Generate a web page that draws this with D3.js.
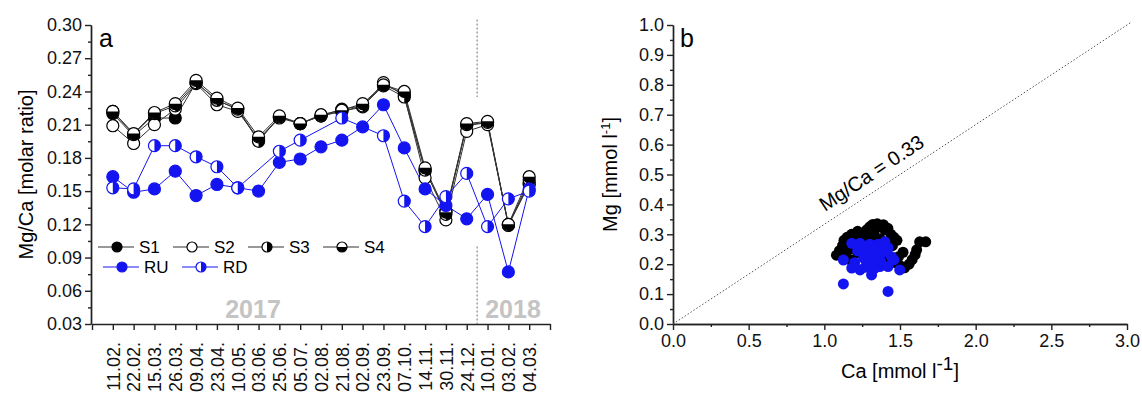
<!DOCTYPE html>
<html>
<head>
<meta charset="utf-8">
<script src="https://cdn.jsdelivr.net/npm/d3@7"></script>
<style>
  html, body { margin: 0; padding: 0; background: #fff; }
  svg { display: block; font-family: 'Liberation Sans', Arial, sans-serif; }
  .axis path, .axis line { stroke: #222; stroke-width: 1.4; }
  .axis text { font-size: 18px; fill: #111; }
</style>
</head>
<body>
<div id="chart"></div>
<script>
// ─── Data ────────────────────────────────────────────────────────────────────
const DATES = ['11.02.', '22.02.', '15.03.', '26.03.', '09.04.', '23.04.', '10.05.',
  '03.06.', '25.06.', '05.07.', '02.08.', '21.08.', '02.09.', '23.09.', '07.10.',
  '14.11.', '30.11.', '24.12.', '10.01.', '03.02.', '04.03.'];

const S1 = [0.220, 0.200, 0.216, 0.216, 0.248, 0.232, 0.224, 0.196, 0.217, 0.211, 0.218,
  0.224, 0.227, 0.246, 0.238, 0.168, 0.132, 0.209, 0.212, 0.119, 0.156];
const S2 = [0.209, 0.193, 0.210, 0.224, 0.247, 0.228, 0.222, 0.197, 0.216, 0.211, 0.218,
  0.222, 0.226, 0.248, 0.236, 0.162, 0.124, 0.204, 0.210, 0.120, 0.157];
const S3 = [0.222, 0.201, 0.220, 0.227, 0.248, 0.232, 0.224, 0.195, 0.217, 0.211, 0.218,
  0.222, 0.227, 0.245, 0.235, 0.169, 0.129, 0.210, 0.212, 0.119, 0.160];
const S4 = [0.222, 0.202, 0.221, 0.229, 0.250, 0.234, 0.225, 0.199, 0.218, 0.211, 0.219,
  0.223, 0.229, 0.246, 0.240, 0.171, 0.131, 0.211, 0.213, 0.120, 0.163];
const RU = [0.163, 0.149, 0.152, 0.168, 0.146, 0.156, 0.153, 0.150, 0.176, 0.179, 0.190,
  0.196, 0.208, 0.228, 0.189, 0.152, 0.137, 0.125, 0.147, 0.077, 0.152];
const RD = [0.153, 0.152, 0.191, 0.191, 0.181, 0.172, 0.153, null, 0.186, 0.196, null,
  0.216, null, 0.200, 0.141, 0.118, 0.145, 0.166, 0.118, 0.143, 0.150];

const Y_TICKS_A = [0.03, 0.06, 0.09, 0.12, 0.15, 0.18, 0.21, 0.24, 0.27, 0.30];
const YEAR_SPLIT = 17.5;               // between 24.12. and 10.01.
const SPLIT_SEGMENTS = [[0.305, 0.235], [0.10, 0.03]];

// panel b: Ca / Mg scatter (mmol l-1)
const S_CA = [1.08, 1.10, 1.12, 1.13, 1.15, 1.18, 1.18, 1.21, 1.22, 1.25, 1.26, 1.28, 1.30,
  1.32, 1.34, 1.35, 1.37, 1.39, 1.40, 1.42, 1.44, 1.46, 1.48, 1.45, 1.41, 1.37, 1.33, 1.29,
  1.24, 1.20, 1.16, 1.14, 1.17, 1.22, 1.27, 1.31, 1.35, 1.39, 1.43, 1.47, 1.50, 1.53, 1.56,
  1.58, 1.60, 1.61, 1.63, 1.67, 1.52, 1.49];
const S_MG = [0.230, 0.245, 0.262, 0.280, 0.290, 0.275, 0.300, 0.292, 0.310, 0.300, 0.285,
  0.315, 0.325, 0.333, 0.320, 0.335, 0.328, 0.332, 0.315, 0.320, 0.300, 0.290, 0.280, 0.262,
  0.270, 0.285, 0.295, 0.300, 0.270, 0.258, 0.248, 0.228, 0.215, 0.238, 0.250, 0.262, 0.248,
  0.238, 0.220, 0.205, 0.195, 0.188, 0.200, 0.215, 0.232, 0.248, 0.275, 0.275, 0.240, 0.225];
const R_CA = [1.126, 1.181, 1.236, 1.301, 1.356, 1.421, 1.443, 1.181, 1.236, 1.312, 1.367,
  1.421, 1.498, 1.126, 1.421, 1.22, 1.27, 1.32, 1.38, 1.26, 1.31, 1.37, 1.20, 1.27, 1.33,
  1.46, 1.40, 1.25, 1.35, 1.29];
const R_MG = [0.214, 0.270, 0.270, 0.267, 0.267, 0.255, 0.225, 0.187, 0.181, 0.164, 0.192,
  0.192, 0.181, 0.134, 0.109, 0.245, 0.250, 0.245, 0.240, 0.220, 0.210, 0.212, 0.205, 0.190,
  0.185, 0.215, 0.275, 0.262, 0.228, 0.232];
const REF_LINE = [[0, 0], [3.03, 1.01]];

const BLUE = '#1414f0';

// ─── Setup ───────────────────────────────────────────────────────────────────
const W = 1142, H = 393;
const svg = d3.select('#chart').append('svg').attr('width', W).attr('height', H);

// marker types: filled, open, halfRight (right half filled), halfBottom
function marker(g, type, color, r) {
  g.append('circle').attr('r', r)
    .attr('fill', type === 'filled' ? color : '#fff');
  if (type === 'halfRight') {
    g.append('path').attr('d', `M0,${-r} A${r},${r} 0 0,1 0,${r} Z`).attr('fill', color);
  } else if (type === 'halfBottom') {
    g.append('path').attr('d', `M${r},0 A${r},${r} 0 0,1 ${-r},0 Z`).attr('fill', color);
  }
  g.append('circle').attr('r', r).attr('fill', 'none')
    .attr('stroke', color).attr('stroke-width', 1.2);
}

// ─── Panel a ─────────────────────────────────────────────────────────────────
const xA = d3.scaleLinear().domain([-1, 21]).range([92, 550]);
const yA = d3.scaleLinear().domain([0.03, 0.30]).range([324, 25]);

const gA = svg.append('g');

gA.append('g').attr('class', 'axis')
  .attr('transform', `translate(${xA.range()[0] - 1},0)`)
  .call(d3.axisLeft(yA).tickValues(d3.range(0, 9).map(i => 0.045 + i * 0.03))
    .tickSize(3).tickSizeOuter(0).tickFormat(''));
gA.append('g').attr('class', 'axis')
  .attr('transform', `translate(${xA.range()[0] - 1},0)`)
  .call(d3.axisLeft(yA).tickValues(Y_TICKS_A).tickSize(6).tickSizeOuter(0)
    .tickFormat(d3.format('.2f')))
  .selectAll('text').attr('x', -9);

gA.append('g').attr('class', 'axis')
  .attr('transform', `translate(0,${yA.range()[0]})`)
  .call(d3.axisBottom(xA).tickValues(d3.range(-1, 22)).tickSize(6).tickSizeOuter(0)
    .tickFormat(i => DATES[i] || ''))
  .selectAll('text')
    .attr('transform', 'rotate(-90)')
    .attr('text-anchor', 'end')
    .attr('x', -18).attr('y', 0).attr('dy', '0.35em');

gA.append('text')
  .attr('transform', `translate(33,${(yA.range()[0] + yA.range()[1]) / 2}) rotate(-90)`)
  .attr('text-anchor', 'middle')
  .style('font-size', '20px')
  .text('Mg/Ca [molar ratio]');

gA.append('text').attr('x', 99).attr('y', 47).style('font-size', '25px').text('a');

// year split
SPLIT_SEGMENTS.forEach(s => {
  gA.append('line')
    .attr('x1', xA(YEAR_SPLIT)).attr('x2', xA(YEAR_SPLIT))
    .attr('y1', yA(s[0])).attr('y2', yA(s[1]))
    .attr('stroke', '#888').attr('stroke-width', 1.2).attr('stroke-dasharray', '2,2');
});

gA.append('text').attr('x', 253).attr('y', 318).attr('text-anchor', 'middle')
  .style('font-size', '25px').style('font-weight', 'bold').style('fill', '#c4c4c4')
  .text('2017');
gA.append('text').attr('x', 513).attr('y', 318).attr('text-anchor', 'middle')
  .style('font-size', '25px').style('font-weight', 'bold').style('fill', '#c4c4c4')
  .text('2018');

const SERIES = [
  { name: 'S1', values: S1, type: 'filled', color: '#000', line: '#333' },
  { name: 'S2', values: S2, type: 'open', color: '#000', line: '#333' },
  { name: 'S3', values: S3, type: 'halfRight', color: '#000', line: '#333' },
  { name: 'S4', values: S4, type: 'halfBottom', color: '#000', line: '#333' },
  { name: 'RU', values: RU, type: 'filled', color: BLUE, line: BLUE },
  { name: 'RD', values: RD, type: 'halfRight', color: BLUE, line: BLUE },
];

const lineGen = d3.line().x(d => xA(d.i)).y(d => yA(d.v));

SERIES.forEach(s => {
  const pts = s.values.map((v, i) => ({ i, v })).filter(d => d.v != null);
  gA.append('path').datum(pts)
    .attr('d', lineGen).attr('fill', 'none')
    .attr('stroke', s.line).attr('stroke-width', 1);
});
SERIES.forEach(s => {
  const pts = s.values.map((v, i) => ({ i, v })).filter(d => d.v != null);
  pts.forEach(d => {
    marker(gA.append('g').attr('transform', `translate(${xA(d.i)},${yA(d.v)})`),
      s.type, s.color, 6);
  });
});

// legend
const LEGEND_POS = [[98, 247], [173, 247], [248, 247], [323, 247], [103, 267], [182, 267]];
SERIES.forEach((s, k) => {
  const [lx, ly] = LEGEND_POS[k];
  const lg = gA.append('g').attr('transform', `translate(${lx},${ly})`);
  lg.append('line').attr('x1', 0).attr('x2', 36).attr('stroke', s.line).attr('stroke-width', 1);
  marker(lg.append('g').attr('transform', 'translate(19,0)'), s.type, s.color, 5);
  lg.append('text').attr('x', 41).attr('dy', '0.36em').style('font-size', '17px').text(s.name);
});

// ─── Panel b ─────────────────────────────────────────────────────────────────
const xB = d3.scaleLinear().domain([0, 3.0]).range([673, 1127]);
const yB = d3.scaleLinear().domain([0, 1.0]).range([324, 25]);
const gB = svg.append('g');

gB.append('g').attr('class', 'axis').attr('transform', `translate(${xB.range()[0]},0)`)
  .call(d3.axisLeft(yB).tickValues(d3.range(0, 10).map(i => 0.05 + i * 0.1))
    .tickSize(3).tickSizeOuter(0).tickFormat(''));
gB.append('g').attr('class', 'axis').attr('transform', `translate(${xB.range()[0]},0)`)
  .call(d3.axisLeft(yB).tickValues(d3.range(0, 11).map(i => i / 10)).tickSize(6)
    .tickSizeOuter(0).tickFormat(d3.format('.1f')))
  .selectAll('text').attr('x', -9);

gB.append('g').attr('class', 'axis').attr('transform', `translate(0,${yB.range()[0]})`)
  .call(d3.axisBottom(xB).tickValues(d3.range(0, 6).map(i => 0.25 + i * 0.5))
    .tickSize(3).tickSizeOuter(0).tickFormat(''));
gB.append('g').attr('class', 'axis').attr('transform', `translate(0,${yB.range()[0]})`)
  .call(d3.axisBottom(xB).tickValues(d3.range(0, 7).map(i => i / 2)).tickSize(6)
    .tickSizeOuter(0).tickFormat(d3.format('.1f')))
  .selectAll('text').attr('y', 10);

gB.append('path').datum(REF_LINE)
  .attr('d', d3.line().x(d => xB(d[0])).y(d => yB(d[1])))
  .attr('fill', 'none').attr('stroke', '#555').attr('stroke-width', 1)
  .attr('stroke-dasharray', '1.5,2');

const ang = Math.atan2(yB(REF_LINE[1][1]) - yB(0), xB(REF_LINE[1][0]) - xB(0)) * 180 / Math.PI;
gB.append('text')
  .attr('transform', `translate(${xB(1.04)},${yB(1.04 * REF_LINE[1][1] / REF_LINE[1][0])}) rotate(${ang}) translate(0,-10)`)
  .style('font-size', '20px')
  .text('Mg/Ca = 0.33');

gB.append('g').selectAll('circle').data(S_CA).join('circle')
  .attr('cx', d => xB(d)).attr('cy', (d, i) => yB(S_MG[i])).attr('r', 5.5).attr('fill', '#000');
gB.append('g').selectAll('circle').data(R_CA).join('circle')
  .attr('cx', d => xB(d)).attr('cy', (d, i) => yB(R_MG[i])).attr('r', 5.5).attr('fill', BLUE);

gB.append('text').attr('x', 680).attr('y', 47).style('font-size', '25px').text('b');

const yt = gB.append('text')
  .attr('transform', `translate(617,${(yB.range()[0] + yB.range()[1]) / 2}) rotate(-90)`)
  .attr('text-anchor', 'middle').style('font-size', '20px');
yt.append('tspan').text('Mg [mmol l');
yt.append('tspan').attr('dy', -7).style('font-size', '13px').text('-1');
yt.append('tspan').attr('dy', 7).text(']');

const xt = gB.append('text')
  .attr('x', (xB.range()[0] + xB.range()[1]) / 2).attr('y', 378)
  .attr('text-anchor', 'middle').style('font-size', '20px');
xt.append('tspan').text('Ca [mmol l');
xt.append('tspan').attr('dy', -8).style('font-size', '19px').text('-1');
xt.append('tspan').attr('dy', 8).text(']');
</script>
</body>
</html>
